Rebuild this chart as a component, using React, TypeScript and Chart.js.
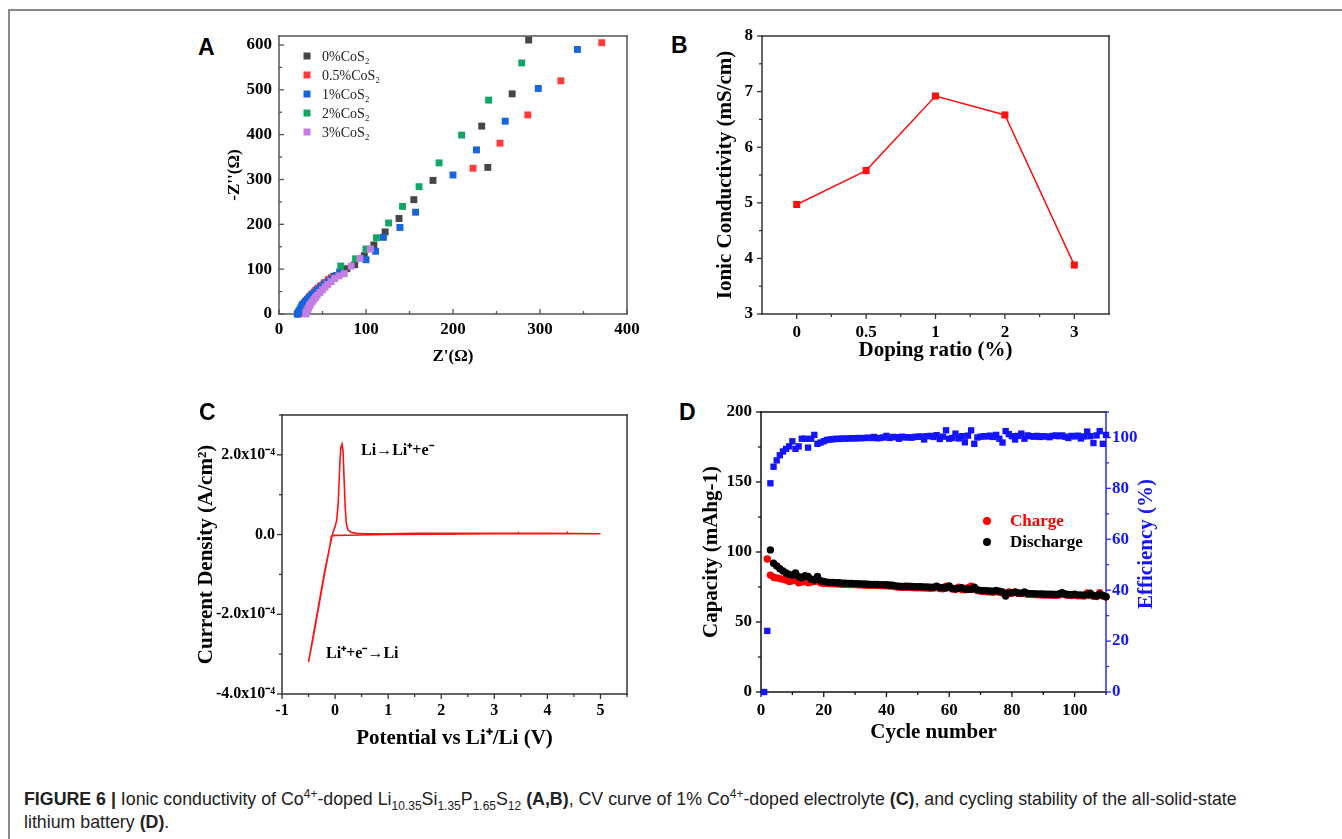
import React, { useEffect, useRef } from 'react';
import { Chart, registerables } from 'chart.js';

Chart.register(...registerables);

const SERIF = "'Liberation Serif', 'Times New Roman', Times, serif";
const SANS = "'Liberation Sans', Arial, Helvetica, sans-serif";

// ---------------- Panel A : Nyquist plot ----------------
const aSeriesLabels = ['0%CoS₂', '0.5%CoS₂', '1%CoS₂', '2%CoS₂', '3%CoS₂'];
const aSeriesColors = ['#464646', '#ff3c3c', '#1565dc', '#13a565', '#c47fe4'];
const a0X = [22, 23, 24, 25, 26, 27, 29, 31, 33, 35, 38, 41, 44, 48, 52, 57, 63, 70, 78, 87, 98, 109, 122, 138, 155, 177, 240, 233, 268, 287];
const a0Y = [0, 3, 6, 10, 14, 18, 22, 27, 32, 37, 43, 49, 55, 62, 69, 76, 84, 93, 101, 110, 130, 154, 183, 213, 255, 298, 327, 419, 491, 611];
const a1X = [23, 24, 25, 26, 27, 28, 30, 32, 34, 36, 39, 42, 45, 49, 53, 57, 60, 223, 254, 286, 324, 371];
const a1Y = [1, 4, 8, 12, 16, 20, 25, 30, 35, 40, 46, 52, 58, 64, 70, 76, 81, 325, 381, 444, 520, 605];
const a2X = [21, 22, 23, 24, 25, 26, 27, 29, 31, 33, 35, 38, 41, 44, 48, 52, 56, 61, 66, 70, 100, 111, 120, 139, 157, 200, 227, 260, 298, 343];
const a2Y = [0, 3, 6, 9, 13, 17, 21, 25, 29, 33, 38, 43, 48, 54, 60, 66, 72, 79, 86, 94, 121, 140, 171, 193, 227, 310, 366, 430, 503, 590];
const a3X = [71, 88, 100, 112, 126, 142, 161, 184, 210, 241, 279];
const a3Y = [107, 123, 145, 170, 203, 240, 284, 337, 399, 477, 560];
const a4X = [31, 31, 32, 33, 34, 35, 36, 38, 40, 42, 44, 47, 50, 53, 56, 60, 64, 69, 75, 83, 93, 105];
const a4Y = [0, 3, 6, 10, 14, 18, 22, 27, 32, 37, 42, 48, 54, 60, 66, 72, 79, 85, 90, 107, 124, 145];

// ---------------- Panel B : conductivity vs doping ----------------
const bCategories = ['0', '0.5', '1', '2', '3'];
const bConductivity = [4.97, 5.58, 6.92, 6.58, 3.88];

// ---------------- Panel C : CV curve (current in 10^-4 A/cm²) ----------------
const cPotential = [5.0, 4.5, 4.38, 4.37, 4.36, 4.0, 3.46, 3.45, 3.44, 3.0, 2.0, 1.0, 0.5, 0.0, -0.07, -0.1, -0.2, -0.3, -0.4, -0.5,
  -0.4, -0.3, -0.2, -0.1, -0.05, 0.0, 0.03, 0.06, 0.09, 0.11, 0.13, 0.15, 0.17, 0.19, 0.21, 0.24, 0.3, 0.4, 0.6, 1.0, 1.5, 2.0, 3.0, 4.0, 5.0];
const cCurrent = [0.02, 0.02, 0.02, 0.04, 0.02, 0.02, 0.02, 0.035, 0.02, 0.02, 0.01, 0.0, -0.01, -0.02, -0.04, -0.3, -1.0, -1.75, -2.5, -3.2,
  -2.45, -1.7, -0.95, -0.3, 0.0, 0.2, 0.35, 0.8, 1.8, 2.2, 2.27, 2.1, 1.4, 0.7, 0.3, 0.12, 0.06, 0.03, 0.02, 0.02, 0.03, 0.03, 0.03, 0.03, 0.02];

// ---------------- Panel D : cycling ----------------
const dCycles = [1, 2, 3, 4, 5, 6, 7, 8, 9, 10, 11, 12, 13, 14, 15, 16, 17, 18, 19, 20,
  21, 22, 23, 24, 25, 26, 27, 28, 29, 30, 31, 32, 33, 34, 35, 36, 37, 38, 39, 40,
  41, 42, 43, 44, 45, 46, 47, 48, 49, 50, 51, 52, 53, 54, 55, 56, 57, 58, 59, 60,
  61, 62, 63, 64, 65, 66, 67, 68, 69, 70, 71, 72, 73, 74, 75, 76, 77, 78, 79, 80,
  81, 82, 83, 84, 85, 86, 87, 88, 89, 90, 91, 92, 93, 94, 95, 96, 97, 98, 99, 100,
  101, 102, 103, 104, 105, 106, 107, 108, 109, 110];
const dEfficiency = [0, 24, 82, 88.5, 91, 93, 94.5, 95.5, 96.5, 98.5,
  95.5, 96.5, 99.5, 99.5, 96, 99.5, 101, 97.5, 98, 98.5,
  99, 99.2, 99.3, 99.5, 99.4, 99.6, 99.5, 99.6, 99.7, 99.6,
  99.8, 99.7, 99.8, 99.9, 99.8, 100.2, 99.7, 99.8, 100, 100.6,
  99.8, 100.2, 100.1, 99.5, 100.3, 100, 100.1, 99.9, 100.2, 100.3,
  100.4, 99.2, 100.5, 100.6, 100.2, 100.9, 99.4, 100.3, 102.8, 99.5,
  99.8, 101.5, 99.6, 100.5, 98.1, 100.7, 102.8, 97.5, 100, 100.3,
  100.5, 100.4, 100.7, 100.2, 101, 99.5, 98, 102.5, 101.3, 100.5,
  99.2, 100.6, 101.5, 99.5, 100.8, 100.5, 100.3, 100.6, 100.2, 100.5,
  100.4, 100.1, 100.6, 100.8, 100.5, 100.8, 100.3, 99.8, 100.6, 100.4,
  100.7, 99.6, 100.4, 102.3, 100.5, 97.8, 100.8, 102.5, 97.5, 101];
const dDischarge = [null, null, 101.5, 92, 90, 88, 86.5, 85, 84, 83.5,
  85, 82.5, 81.5, 83, 82.5, 80.5, 80, 82.5, 79.5, 79,
  78.5, 78.3, 78.2, 78, 78, 77.8, 77.7, 77.6, 77.5, 77.4,
  77.3, 77.2, 77.1, 77, 76.9, 76.9, 76.8, 76.7, 76.6, 76.6,
  76.4, 76.2, 75.8, 75.6, 75.4, 75.6, 75.5, 75.4, 75.3, 75.2,
  75.2, 75.1, 75, 74.9, 74.8, 75.5, 74.6, 74.5, 74.3, 75.8,
  74, 73.8, 74, 74.5, 73.5, 73.4, 73.3, 74.8, 73, 72.6,
  72.4, 72.3, 72.2, 72, 72.5, 72, 71.5, 68.5, 70.5, 71,
  71.2, 70.8, 70.6, 71.5, 70.4, 70.3, 70.2, 70.1, 70, 70,
  69.9, 69.8, 69.8, 69.7, 70, 71, 70, 69.6, 69.5, 69.8,
  69.4, 69.3, 69.2, 69.5, 70.5, 69, 68.5, 69.8, 69, 68];
const dCharge = [null, 95, 83.5, 82, 81.5, 81, 80.5, 80, 79, 79.5,
  80, 78, 78.5, 79, 78, 78.5, 79, 79.5, 78, 77.5,
  77.5, 77.4, 77.3, 77.2, 77.1, 77, 76.9, 76.8, 76.7, 76.7,
  76.6, 76.5, 76.4, 76.3, 76.3, 76.2, 76.1, 76, 75.9, 75.9,
  75.7, 75.5, 75.1, 74.9, 74.7, 74.8, 74.7, 74.6, 74.5, 74.5,
  74.4, 74.3, 74.2, 74.1, 74.2, 75, 73.9, 73.8, 75.5, 75,
  73.5, 73.2, 74.8, 73.2, 73, 74.5, 75.5, 73.5, 72.5, 72,
  71.8, 71.6, 71.5, 71.3, 71.8, 71.2, 70.8, 70, 71.5, 70.5,
  71.5, 70.5, 70.3, 70.8, 69.8, 69.7, 69.6, 69.5, 69.4, 69.3,
  69.3, 69.2, 69.1, 69, 69.3, 70, 69.5, 69, 68.9, 69.1,
  68.8, 68.7, 68.6, 70.8, 69, 68.4, 68.2, 71, 68.5, 68];

// ---------------- helpers ----------------
const zip = (xs: number[], ys: (number | null)[]) =>
  xs.map((x, i) => ({ x, y: ys[i] })).filter((p) => p.y !== null && p.y !== undefined);

const bold = (size: number) => ({ family: SERIF, size, weight: 'bold' as const });

// fix an axis' thickness and stop it from pushing the plot area in
const fixW = (w: number) => (s: any) => { s.width = w; s.paddingTop = 0; s.paddingBottom = 0; s.paddingLeft = 0; s.paddingRight = 0; };
const fixH = (h: number) => (s: any) => { s.height = h; s.paddingTop = 0; s.paddingBottom = 0; s.paddingLeft = 0; s.paddingRight = 0; };

type AxisDecor = { id: string; side: 'left' | 'right' | 'bottom'; dir: 'in' | 'out'; len: number; minor?: number; minorLen?: number; color: string };
type TextItem = { text: string; x: number; y: number; mode: 'data' | 'area' | 'rightmid'; font: string; color: string; align?: CanvasTextAlign; rotate?: number; yAxis?: string };
type LegendCfg = { items: number[]; markerX: number; textX: number; y: number; rowH: number; font: string; colorText: boolean; shape: 'rect' | 'circle'; size: number; textColor?: string };
type DecorCfg = { frame: { width: number; top: string; right: string; bottom: string; left: string }; axes: AxisDecor[]; texts?: TextItem[]; legend?: LegendCfg };

function makeDecor(cfg: DecorCfg) {
  return {
    id: 'decor',
    beforeDatasetsDraw(chart: any) {
      const { ctx, chartArea: ca } = chart;
      ctx.save();
      const f = cfg.frame;
      ctx.lineWidth = f.width;
      const h = f.width / 2;
      const seg = (x1: number, y1: number, x2: number, y2: number, c: string) => {
        ctx.strokeStyle = c;
        ctx.beginPath();
        ctx.moveTo(x1, y1);
        ctx.lineTo(x2, y2);
        ctx.stroke();
      };
      seg(ca.left - h, ca.top, ca.right + h, ca.top, f.top);
      seg(ca.left - h, ca.bottom, ca.right + h, ca.bottom, f.bottom);
      seg(ca.left, ca.top - h, ca.left, ca.bottom + h, f.left);
      seg(ca.right, ca.top - h, ca.right, ca.bottom + h, f.right);
      for (const ax of cfg.axes) {
        const s = chart.scales[ax.id];
        ctx.strokeStyle = ax.color;
        ctx.lineWidth = 1.3;
        const sign = ax.dir === 'in' ? -1 : 1;
        const draw = (v: number, len: number) => {
          const p = s.getPixelForValue(v);
          ctx.beginPath();
          if (ax.side === 'bottom') {
            ctx.moveTo(p, ca.bottom);
            ctx.lineTo(p, ca.bottom + sign * len);
          } else if (ax.side === 'left') {
            ctx.moveTo(ca.left, p);
            ctx.lineTo(ca.left - sign * len, p);
          } else {
            ctx.moveTo(ca.right, p);
            ctx.lineTo(ca.right + sign * len, p);
          }
          ctx.stroke();
        };
        const majors: number[] = s.ticks.map((t: any) => t.value);
        majors.forEach((v) => draw(v, ax.len));
        if (ax.minor) {
          const n0 = Math.ceil(s.min / ax.minor - 1e-6);
          const n1 = Math.floor(s.max / ax.minor + 1e-6);
          for (let n = n0; n <= n1; n++) {
            const v = n * ax.minor;
            if (majors.some((m) => Math.abs(m - v) < ax.minor! * 0.01)) continue;
            draw(v, ax.minorLen || ax.len / 2);
          }
        }
      }
      ctx.restore();
    },
    afterDatasetsDraw(chart: any) {
      const { ctx, chartArea: ca } = chart;
      ctx.save();
      for (const t of cfg.texts || []) {
        let x = 0;
        let y = 0;
        if (t.mode === 'data') {
          x = chart.scales.x.getPixelForValue(t.x);
          y = chart.scales[t.yAxis || 'y'].getPixelForValue(t.y);
        } else if (t.mode === 'rightmid') {
          x = ca.right + t.x;
          y = (ca.top + ca.bottom) / 2 + t.y;
        } else {
          x = ca.left + t.x;
          y = ca.top + t.y;
        }
        ctx.font = t.font;
        ctx.fillStyle = t.color;
        ctx.textAlign = t.align || 'left';
        ctx.textBaseline = 'middle';
        ctx.save();
        ctx.translate(x, y);
        if (t.rotate) ctx.rotate(t.rotate);
        ctx.fillText(t.text, 0, 0);
        ctx.restore();
      }
      const lg = cfg.legend;
      if (lg) {
        lg.items.forEach((di, k) => {
          const ds = chart.data.datasets[di];
          const color = ds.backgroundColor as string;
          const y = ca.top + lg.y + k * lg.rowH;
          const mx = ca.left + lg.markerX;
          ctx.fillStyle = color;
          if (lg.shape === 'rect') {
            ctx.fillRect(mx - lg.size / 2, y - lg.size / 2, lg.size, lg.size);
          } else {
            ctx.beginPath();
            ctx.arc(mx, y, lg.size / 2, 0, Math.PI * 2);
            ctx.fill();
          }
          ctx.font = lg.font;
          ctx.fillStyle = lg.colorText ? color : lg.textColor || '#000';
          ctx.textAlign = 'left';
          ctx.textBaseline = 'middle';
          ctx.fillText(ds.label, ca.left + lg.textX, y + 1);
        });
      }
      ctx.restore();
    },
  };
}

const noGrid = { display: false, drawTicks: false };
const noBorder = { display: false };

// ---------------- chart configs ----------------
function configA(): any {
  const xs = [a0X, a1X, a2X, a3X, a4X];
  const ys = [a0Y, a1Y, a2Y, a3Y, a4Y];
  return {
    type: 'scatter',
    data: {
      datasets: aSeriesLabels.map((label, i) => ({
        label,
        data: zip(xs[i], ys[i]),
        pointStyle: 'rect',
        pointRadius: 4.9,
        pointBorderWidth: 0,
        backgroundColor: aSeriesColors[i],
        borderColor: aSeriesColors[i],
        order: 4 - i,
        clip: false,
      })),
    },
    options: {
      animation: false,
      responsive: false,
      events: [],
      layout: { padding: { left: 0, top: 12, right: 20, bottom: 0 } },
      plugins: { legend: { display: false }, tooltip: { enabled: false } },
      scales: {
        x: {
          type: 'linear', min: 0, max: 400,
          grid: noGrid, border: noBorder,
          ticks: { stepSize: 100, includeBounds: false, padding: 5, font: bold(17), color: '#000', maxRotation: 0 },
          title: { display: true, text: "Z'(Ω)", font: bold(17), color: '#000', padding: 0 },
          afterFit: fixH(53),
        },
        y: {
          type: 'linear', min: 0, max: 620,
          grid: noGrid, border: noBorder,
          ticks: { stepSize: 100, includeBounds: false, padding: 7, font: bold(17), color: '#000' },
          title: { display: true, text: "-Z''(Ω)", font: bold(17), color: '#000', padding: 0 },
          afterFit: fixW(55),
        },
      },
    },
    plugins: [makeDecor({
      frame: { width: 1.5, top: '#555', right: '#555', bottom: '#555', left: '#555' },
      axes: [
        { id: 'x', side: 'bottom', dir: 'in', len: 5, minor: 50, minorLen: 3, color: '#555' },
        { id: 'y', side: 'left', dir: 'in', len: 5, minor: 50, minorLen: 3, color: '#555' },
      ],
      legend: { items: [0, 1, 2, 3, 4], markerX: 28, textX: 43, y: 20, rowH: 19, font: `14px ${SERIF}`, colorText: false, textColor: '#222', shape: 'rect', size: 7 },
    })],
  };
}

function configB(): any {
  return {
    type: 'line',
    data: {
      labels: bCategories,
      datasets: [{
        label: 'Ionic Conductivity',
        data: bConductivity,
        borderColor: '#ff1010',
        backgroundColor: '#ff1010',
        borderWidth: 1.5,
        pointStyle: 'rect',
        pointRadius: 5,
        pointBorderWidth: 0,
        tension: 0,
      }],
    },
    options: {
      animation: false,
      responsive: false,
      events: [],
      layout: { padding: { left: 0, top: 12, right: 10, bottom: 0 } },
      plugins: { legend: { display: false }, tooltip: { enabled: false } },
      scales: {
        x: {
          type: 'category', offset: true,
          grid: { ...noGrid, offset: true }, border: noBorder,
          ticks: { padding: 8, font: bold(17), color: '#000', maxRotation: 0 },
          title: { display: true, text: 'Doping ratio (%)', font: bold(21), color: '#000', padding: 0 },
          afterFit: fixH(49),
        },
        y: {
          type: 'linear', min: 3, max: 8,
          grid: noGrid, border: noBorder,
          ticks: { stepSize: 1, padding: 9, font: bold(17), color: '#000' },
          title: { display: true, text: 'Ionic Conductivity (mS/cm)', font: bold(21), color: '#000', padding: 0 },
          afterFit: fixW(49),
        },
      },
    },
    plugins: [makeDecor({
      frame: { width: 1.5, top: '#333', right: '#333', bottom: '#333', left: '#333' },
      axes: [
        { id: 'x', side: 'bottom', dir: 'out', len: 5, minor: 0.5, minorLen: 3, color: '#333' },
        { id: 'y', side: 'left', dir: 'out', len: 5, minor: 0.5, minorLen: 3, color: '#333' },
      ],
    })],
  };
}

function configC(): any {
  return {
    type: 'scatter',
    data: {
      datasets: [{
        label: 'CV',
        data: zip(cPotential, cCurrent),
        showLine: true,
        borderColor: '#ff1414',
        backgroundColor: '#ff1414',
        borderWidth: 1.6,
        pointRadius: 0,
        tension: 0,
      }],
    },
    options: {
      animation: false,
      responsive: false,
      events: [],
      layout: { padding: { left: 0, top: 12, right: 10, bottom: 0 } },
      plugins: { legend: { display: false }, tooltip: { enabled: false } },
      scales: {
        x: {
          type: 'linear', min: -1, max: 5.5,
          grid: noGrid, border: noBorder,
          ticks: { stepSize: 1, includeBounds: false, padding: 7, font: bold(16), color: '#000', maxRotation: 0 },
          title: { display: true, text: 'Potential vs Li⁺/Li (V)', font: bold(21), color: '#000', padding: 0 },
          afterFit: fixH(57),
        },
        y: {
          type: 'linear', min: -4, max: 3,
          grid: noGrid, border: noBorder,
          ticks: {
            stepSize: 2, includeBounds: false, padding: 7, font: bold(16), color: '#000',
            callback: (v: number) => (Math.abs(v) < 1e-9 ? '0.0' : `${v.toFixed(1)}x10⁻⁴`),
          },
          title: { display: true, text: 'Current Density (A/cm²)', font: bold(21), color: '#000', padding: 0 },
          afterFit: fixW(88),
        },
      },
    },
    plugins: [makeDecor({
      frame: { width: 1.5, top: '#333', right: '#333', bottom: '#333', left: '#333' },
      axes: [
        { id: 'x', side: 'bottom', dir: 'out', len: 5, minor: 0.5, minorLen: 3, color: '#333' },
        { id: 'y', side: 'left', dir: 'out', len: 5, minor: 1, minorLen: 3, color: '#333' },
      ],
      texts: [
        { text: 'Li→Li⁺+e⁻', x: 0.49, y: 2.09, mode: 'data', font: `bold 16px ${SERIF}`, color: '#000' },
        { text: 'Li⁺+e⁻→Li', x: -0.17, y: -3.0, mode: 'data', font: `bold 16px ${SERIF}`, color: '#000' },
      ],
    })],
  };
}

function configD(): any {
  return {
    type: 'scatter',
    data: {
      datasets: [
        { label: 'Charge', data: zip(dCycles, dCharge), yAxisID: 'y', pointStyle: 'circle', pointRadius: 3.7, pointBorderWidth: 0, backgroundColor: '#ff0000', borderColor: '#ff0000', order: 2, clip: false },
        { label: 'Discharge', data: zip(dCycles, dDischarge), yAxisID: 'y', pointStyle: 'circle', pointRadius: 3.7, pointBorderWidth: 0, backgroundColor: '#000000', borderColor: '#000000', order: 1, clip: false },
        { label: 'Efficiency', data: zip(dCycles, dEfficiency), yAxisID: 'y2', pointStyle: 'rect', pointRadius: 4.5, pointBorderWidth: 0, backgroundColor: '#1414ff', borderColor: '#1414ff', order: 0, clip: false },
      ],
    },
    options: {
      animation: false,
      responsive: false,
      events: [],
      layout: { padding: { left: 0, top: 12, right: 4, bottom: 0 } },
      plugins: { legend: { display: false }, tooltip: { enabled: false } },
      scales: {
        x: {
          type: 'linear', min: 0, max: 110,
          grid: noGrid, border: noBorder,
          ticks: { stepSize: 20, includeBounds: false, padding: 8, font: bold(17), color: '#000', maxRotation: 0 },
          title: { display: true, text: 'Cycle number', font: bold(21), color: '#000', padding: 0 },
          afterFit: fixH(53),
        },
        y: {
          type: 'linear', position: 'left', min: 0, max: 200,
          grid: noGrid, border: noBorder,
          ticks: { stepSize: 50, padding: 9, font: bold(17), color: '#000' },
          title: { display: true, text: 'Capacity (mAhg-1)', font: bold(21), color: '#000', padding: 0 },
          afterFit: fixW(62),
        },
        y2: {
          type: 'linear', position: 'right', min: 0, max: 110,
          grid: noGrid, border: noBorder,
          ticks: { stepSize: 20, includeBounds: false, padding: 6, font: bold(17), color: '#1414ff' },
          title: { display: false },
          afterFit: fixW(60),
        },
      },
    },
    plugins: [makeDecor({
      frame: { width: 1.5, top: '#111', right: '#2a2aff', bottom: '#111', left: '#111' },
      axes: [
        { id: 'x', side: 'bottom', dir: 'out', len: 5, minor: 10, minorLen: 3, color: '#111' },
        { id: 'y', side: 'left', dir: 'out', len: 5, minor: 25, minorLen: 3, color: '#111' },
        { id: 'y2', side: 'right', dir: 'out', len: 5, minor: 10, minorLen: 3, color: '#2a2aff' },
      ],
      texts: [
        { text: 'Efficiency (%)', x: 41, y: -8, mode: 'rightmid', font: `bold 21px ${SERIF}`, color: '#1414ff', align: 'center', rotate: -Math.PI / 2 },
      ],
      legend: { items: [0, 1], markerX: 226, textX: 249, y: 109, rowH: 21, font: `bold 17px ${SERIF}`, colorText: true, shape: 'circle', size: 8 },
    })],
  };
}

function Panel(props: { left: number; top: number; width: number; height: number; make: () => any }) {
  const ref = useRef<HTMLCanvasElement>(null);
  useEffect(() => {
    const chart = new Chart(ref.current as HTMLCanvasElement, props.make());
    return () => chart.destroy();
  }, []);
  return (
    <canvas
      ref={ref}
      width={props.width}
      height={props.height}
      style={{ position: 'absolute', left: props.left, top: props.top, width: props.width, height: props.height }}
    />
  );
}

const letterStyle = (left: number, top: number): React.CSSProperties => ({
  position: 'absolute', left, top, font: `bold 23px ${SANS}`, lineHeight: '23px', color: '#000',
});

const supStyle: React.CSSProperties = { fontSize: '12px', verticalAlign: 'super', lineHeight: 0 };
const subStyle: React.CSSProperties = { fontSize: '12px', verticalAlign: 'sub', lineHeight: 0 };

export default function App() {
  return (
    <div style={{ position: 'absolute', left: 0, top: 0, width: 1342, height: 839, background: '#fff', overflow: 'hidden' }}>
      <div style={{ position: 'absolute', left: 8, top: 9, width: 1340, height: 840, borderTop: '2px solid #8a8a8a', borderLeft: '2px solid #8a8a8a' }} />
      <Panel left={224} top={24} width={423} height={343} make={configA} />
      <Panel left={713} top={24} width={406} height={339} make={configB} />
      <Panel left={194} top={403} width={443} height={348} make={configC} />
      <Panel left={699} top={400} width={471} height={345} make={configD} />
      <div style={letterStyle(198, 36)}>A</div>
      <div style={letterStyle(671, 34)}>B</div>
      <div style={letterStyle(199, 401)}>C</div>
      <div style={letterStyle(679, 401)}>D</div>
      <div style={{ position: 'absolute', left: 24, top: 788, font: `17.8px ${SANS}`, lineHeight: '23px', whiteSpace: 'nowrap', color: '#222' }}>
        <b>FIGURE 6 |</b> Ionic conductivity of Co<span style={supStyle}>4+</span>-doped Li<span style={subStyle}>10.35</span>Si<span style={subStyle}>1.35</span>P<span style={subStyle}>1.65</span>S<span style={subStyle}>12</span> <b>(A,B)</b>, CV curve of 1% Co<span style={supStyle}>4+</span>-doped electrolyte <b>(C)</b>, and cycling stability of the all-solid-state
        <br />
        lithium battery <b>(D)</b>.
      </div>
    </div>
  );
}
